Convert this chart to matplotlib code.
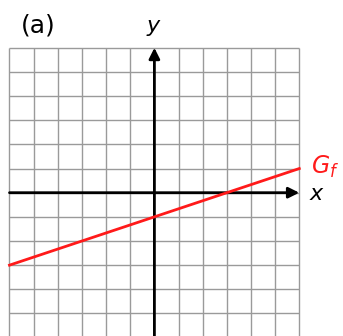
import matplotlib
matplotlib.use("Agg")
from matplotlib import pyplot as plt
import numpy as np

# graph of f: straight line through two grid points
line_x = [-6, 6]
line_y = [-3, 1]

grid_ticks = list(range(-6, 7))
label_panel = "(a)"
label_graph = "$G_f$"

fig = plt.figure(figsize=(3.43, 3.36), dpi=100)
ax = fig.add_axes([0, 0, 1, 1])
ax.set_xlim(-6.393, 7.81)
ax.set_ylim(-5.934, 7.98)
ax.axis("off")

# grid
ax.vlines(grid_ticks, -6, 6, color="#9a9a9a", lw=1.0, zorder=1)
ax.hlines(grid_ticks, -6, 6, color="#9a9a9a", lw=1.0, zorder=1)

# axes with arrows
ax.annotate("", xy=(6, 0), xytext=(-6, 0),
            arrowprops=dict(arrowstyle="-|>", color="black", lw=2,
                            mutation_scale=16, shrinkA=0, shrinkB=0), zorder=3)
ax.annotate("", xy=(0, 6), xytext=(0, -6),
            arrowprops=dict(arrowstyle="-|>", color="black", lw=2,
                            mutation_scale=16, shrinkA=0, shrinkB=0), zorder=3)

# the function graph
ax.plot(line_x, line_y, color="#ff1a1a", lw=2, zorder=4)

ax.text(6.72, -0.05, "$x$", fontsize=16, ha="center", va="center")
ax.text(0, 6.8, "$y$", fontsize=16, ha="center", va="center")
ax.text(-4.8, 6.92, label_panel, fontsize=18, ha="center", va="center")
ax.text(6.5, 1.05, label_graph, fontsize=17, color="#ff1a1a", ha="left", va="center")

plt.savefig("out.png", dpi=100)
